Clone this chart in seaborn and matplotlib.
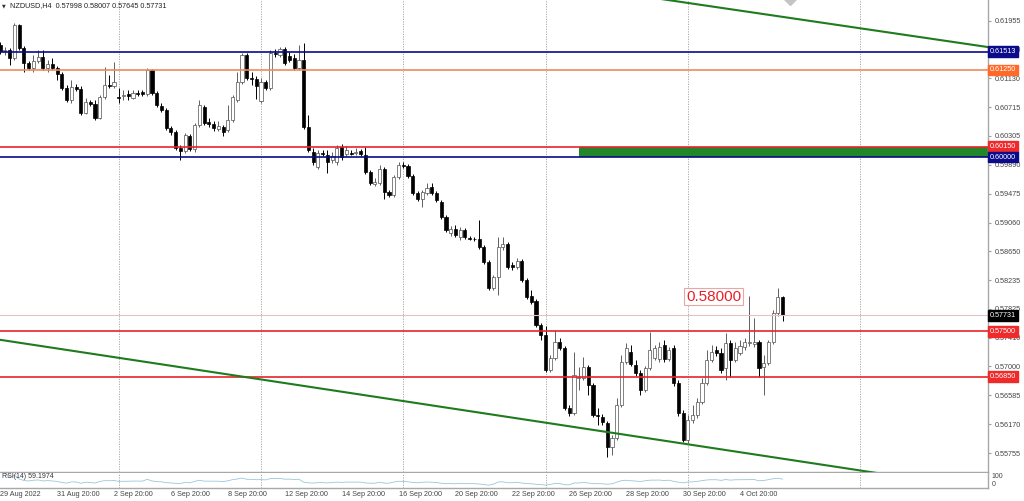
"""
NZDUSD H4 candlestick chart (MT5 style) with support/resistance levels
"""
import numpy as np
import pandas as pd
import matplotlib
matplotlib.use('Agg')
import matplotlib.pyplot as plt
import matplotlib.transforms as mtransforms
import seaborn as sns

# ---- candle data (bar index 0 = 29 Aug 20:00) ----
opens = [
    0.6161, 0.6152, 0.6154, 0.6142, 0.6189, 0.6156, 0.6135, 0.6128, 0.6138, 0.6144,
    0.6128, 0.6133, 0.6128, 0.6119, 0.6099, 0.6082, 0.6100, 0.6098, 0.6063, 0.6079,
    0.6076, 0.6056, 0.6086, 0.6103, 0.6102, 0.6086, 0.6088, 0.6090, 0.6085, 0.6092,
    0.6093, 0.6090, 0.6125, 0.6092, 0.6073, 0.6068, 0.6042, 0.6036, 0.6013, 0.6009,
    0.6030, 0.6012, 0.6046, 0.6072, 0.6050, 0.6047, 0.6040, 0.6043, 0.6039, 0.6053,
    0.6082, 0.6108, 0.6146, 0.6113, 0.6112, 0.6080, 0.6108, 0.6099, 0.6149, 0.6146,
    0.6155, 0.6145, 0.6142, 0.6128, 0.6139, 0.6043, 0.6007, 0.5986, 0.6006, 0.6003,
    0.5996, 0.5993, 0.6014, 0.6004, 0.6006, 0.6006, 0.6009, 0.6003, 0.5978, 0.5961,
    0.5963, 0.5983, 0.5950, 0.5946, 0.5971, 0.5989, 0.5987, 0.5973, 0.5948, 0.5940,
    0.5948, 0.5957, 0.5948, 0.5936, 0.5914, 0.5891, 0.5897, 0.5885, 0.5895, 0.5884,
    0.5883, 0.5883, 0.5871, 0.5850, 0.5812, 0.5828, 0.5871, 0.5875, 0.5845, 0.5842,
    0.5851, 0.5824, 0.5801, 0.5794, 0.5759, 0.5745, 0.5695, 0.5712, 0.5735, 0.5726,
    0.5640, 0.5633, 0.5683, 0.5683, 0.5699, 0.5673, 0.5630, 0.5627, 0.5619, 0.5584,
    0.5597, 0.5644, 0.5706, 0.5720, 0.5702, 0.5690, 0.5666, 0.5697, 0.5712, 0.5710,
    0.5730, 0.5710, 0.5726, 0.5676, 0.5633, 0.5594, 0.5623, 0.5630, 0.5649, 0.5676,
    0.5709, 0.5723, 0.5719, 0.5697, 0.5733, 0.5709, 0.5719, 0.5728, 0.5733, 0.5732,
    0.5735, 0.5699, 0.5705, 0.5735, 0.5776, 0.57998,
]
highs = [
    0.6165, 0.6158, 0.6156, 0.6192, 0.6191, 0.6159, 0.6138, 0.6146, 0.6154, 0.6154,
    0.6139, 0.6142, 0.6131, 0.6122, 0.6103, 0.6111, 0.6105, 0.6102, 0.6085, 0.6082,
    0.6082, 0.6089, 0.6129, 0.6118, 0.6136, 0.6099, 0.6096, 0.6096, 0.6096, 0.6096,
    0.6096, 0.6128, 0.6126, 0.6095, 0.6078, 0.6070, 0.6045, 0.6039, 0.6017, 0.6035,
    0.6033, 0.6049, 0.6082, 0.6075, 0.6056, 0.6052, 0.6052, 0.6046, 0.6075, 0.6089,
    0.6122, 0.6149, 0.6149, 0.6122, 0.6116, 0.6113, 0.6111, 0.6154, 0.6155, 0.6158,
    0.6158, 0.6151, 0.6148, 0.6161, 0.6164, 0.6060, 0.6013, 0.6010, 0.6010, 0.6010,
    0.6007, 0.6017, 0.6019, 0.6016, 0.6010, 0.6013, 0.6012, 0.6014, 0.5981, 0.5970,
    0.5989, 0.5986, 0.5953, 0.5974, 0.5993, 0.5993, 0.5990, 0.5976, 0.5951, 0.5953,
    0.5963, 0.5963, 0.5951, 0.5938, 0.5917, 0.5901, 0.5903, 0.5900, 0.5898, 0.5887,
    0.5885, 0.5910, 0.5874, 0.5853, 0.5831, 0.5885, 0.5885, 0.5878, 0.5850, 0.5855,
    0.5854, 0.5827, 0.5809, 0.5796, 0.5762, 0.5758, 0.5716, 0.5752, 0.5741, 0.5729,
    0.5644, 0.5720, 0.5699, 0.5713, 0.5702, 0.5676, 0.5640, 0.5632, 0.5621, 0.5601,
    0.5654, 0.5716, 0.5733, 0.5730, 0.5709, 0.5695, 0.5700, 0.5749, 0.5730, 0.5735,
    0.5738, 0.5728, 0.5730, 0.5680, 0.5637, 0.5630, 0.5644, 0.5654, 0.5683, 0.5723,
    0.5730, 0.5729, 0.5726, 0.5748, 0.5738, 0.5735, 0.5738, 0.5741, 0.5801, 0.5769,
    0.5738, 0.5716, 0.5738, 0.5781, 0.5812, 0.58007,
]
lows = [
    0.6148, 0.6146, 0.6132, 0.6139, 0.6154, 0.6122, 0.6125, 0.6122, 0.6135, 0.6125,
    0.6122, 0.6125, 0.6111, 0.6096, 0.6079, 0.6078, 0.6095, 0.6060, 0.6062, 0.6073,
    0.6053, 0.6055, 0.6083, 0.6099, 0.6099, 0.6078, 0.6082, 0.6082, 0.6083, 0.6088,
    0.6088, 0.6088, 0.6089, 0.6072, 0.6065, 0.6039, 0.6032, 0.6010, 0.5996, 0.6006,
    0.6009, 0.6007, 0.6043, 0.6046, 0.6043, 0.6037, 0.6037, 0.6030, 0.6036, 0.6050,
    0.6079, 0.6105, 0.6111, 0.6103, 0.6083, 0.6078, 0.6096, 0.6096, 0.6144, 0.6144,
    0.6132, 0.6136, 0.6125, 0.6125, 0.6040, 0.6007, 0.5989, 0.5983, 0.6002, 0.5977,
    0.5992, 0.5989, 0.5996, 0.6002, 0.6003, 0.6003, 0.6002, 0.5975, 0.5960, 0.5959,
    0.5960, 0.5940, 0.5943, 0.5943, 0.5968, 0.5984, 0.5970, 0.5946, 0.5937, 0.5928,
    0.5946, 0.5946, 0.5936, 0.5911, 0.5893, 0.5887, 0.5885, 0.5881, 0.5883, 0.5881,
    0.5880, 0.5868, 0.5847, 0.5809, 0.5809, 0.5802, 0.5867, 0.5840, 0.5838, 0.5840,
    0.5821, 0.5796, 0.5789, 0.5756, 0.5738, 0.5692, 0.5692, 0.5709, 0.5723, 0.5637,
    0.5629, 0.5630, 0.5666, 0.5680, 0.5659, 0.5627, 0.5616, 0.5616, 0.5570, 0.5573,
    0.5594, 0.5642, 0.5703, 0.5700, 0.5686, 0.5659, 0.5663, 0.5695, 0.5709, 0.5706,
    0.5706, 0.5708, 0.5672, 0.5629, 0.5591, 0.5590, 0.5619, 0.5626, 0.5646, 0.5673,
    0.5706, 0.5715, 0.5690, 0.5680, 0.5685, 0.5706, 0.5716, 0.5723, 0.5729, 0.5728,
    0.5685, 0.5659, 0.5702, 0.5732, 0.5772, 0.57645,
]
closes = [
    0.6152, 0.6154, 0.6142, 0.6189, 0.6156, 0.6135, 0.6128, 0.6138, 0.6144, 0.6128,
    0.6133, 0.6128, 0.6119, 0.6099, 0.6082, 0.6100, 0.6098, 0.6063, 0.6079, 0.6076,
    0.6056, 0.6086, 0.6103, 0.6102, 0.6108, 0.6085, 0.6089, 0.6088, 0.6092, 0.6091,
    0.6090, 0.6125, 0.6092, 0.6075, 0.6068, 0.6042, 0.6036, 0.6013, 0.6009, 0.6032,
    0.6012, 0.6046, 0.6075, 0.6049, 0.6047, 0.6042, 0.6045, 0.6036, 0.6053, 0.6086,
    0.6108, 0.6146, 0.6113, 0.6112, 0.6102, 0.6108, 0.6099, 0.6149, 0.6148, 0.6155,
    0.6135, 0.6139, 0.6128, 0.6139, 0.6043, 0.6010, 0.5993, 0.6006, 0.6005, 0.5993,
    0.6002, 0.6013, 0.6000, 0.6010, 0.6005, 0.6007, 0.6004, 0.5978, 0.5963, 0.5964,
    0.5983, 0.5950, 0.5946, 0.5971, 0.5989, 0.5987, 0.5973, 0.5948, 0.5940, 0.5950,
    0.5956, 0.5948, 0.5938, 0.5914, 0.5895, 0.5897, 0.5888, 0.5895, 0.5885, 0.5883,
    0.5882, 0.5871, 0.5850, 0.5812, 0.5828, 0.5871, 0.5875, 0.5842, 0.5842, 0.5851,
    0.5824, 0.5799, 0.5792, 0.5759, 0.5745, 0.5695, 0.5712, 0.5735, 0.5726, 0.5640,
    0.5633, 0.5687, 0.5685, 0.5699, 0.5673, 0.5630, 0.5629, 0.5620, 0.5584, 0.5597,
    0.5644, 0.5706, 0.5726, 0.5703, 0.5690, 0.5666, 0.5697, 0.5723, 0.5726, 0.5728,
    0.5710, 0.5723, 0.5676, 0.5633, 0.5594, 0.5623, 0.5630, 0.5649, 0.5676, 0.5709,
    0.5720, 0.5719, 0.5695, 0.5733, 0.5709, 0.5726, 0.5729, 0.5735, 0.5735, 0.5735,
    0.5697, 0.5705, 0.5735, 0.5776, 0.5800, 0.57731,
]

# time axis labels (bar index, text)
time_ticks = [0, 12, 24, 36, 48, 60, 72, 84, 96, 108, 120, 132, 144, 156]
time_labels = ['29 Aug 2022', '31 Aug 20:00', '2 Sep 20:00', '6 Sep 20:00', '8 Sep 20:00',
               '12 Sep 20:00', '14 Sep 20:00', '16 Sep 20:00', '20 Sep 20:00',
               '22 Sep 20:00', '26 Sep 20:00', '28 Sep 20:00', '30 Sep 20:00', '4 Oct 20:00']
week_separators = [25, 55, 85, 115, 145, 181.3]

price_ticks = [0.61955, 0.61540, 0.61130, 0.60715, 0.60305, 0.59890, 0.59475, 0.59060,
               0.58650, 0.58235, 0.57825, 0.57410, 0.57000, 0.56585, 0.56170, 0.55755]

# horizontal levels: price, line colour, label box colour
level_prices = [0.61513, 0.61250, 0.60150, 0.60000, 0.57500, 0.56850]
level_colors = ['#0A0A8A', '#EE8A5E', '#E8242A', '#0A0A8A', '#E8242A', '#E8242A']
level_box_colors = ['#0A0A8A', '#FF6A2A', '#EE2A2A', '#0A0A8A', '#EE2A2A', '#EE2A2A']
bid_price = 0.57731

# green zone between 0.6000 and 0.6015 starting at bar 122
zone_start = 122.06
zone_low, zone_high = 0.60000, 0.60150

# trend lines (bar, price)
upper_trend_x = [138, 210]
upper_trend_y = [0.6228, 0.6156]
lower_trend_x = [-2, 210]
lower_trend_y = [0.5740, 0.5521]

# grey object marker cut by the top edge
marker_x = [166.6]
marker_y = [0.6228]

# ---- style ----
sns.set_style('white')
plt.rcParams['font.family'] = ['Liberation Sans', 'DejaVu Sans']

N = len(closes)
assert len(opens) == N and len(highs) == N and len(lows) == N
x = np.arange(N)
o = np.array(opens)
h = np.array(highs)
l = np.array(lows)
c = np.array(closes)

W, H = 1024, 501
fig = plt.figure(figsize=(W / 100, H / 100), dpi=100)
ax = fig.add_axes([0, 1 - 472 / H, 988 / W, 472 / H])
rsi_ax = fig.add_axes([0, 1 - 488 / H, 988 / W, 15 / H])

x_left, x_right = -0.04, 208.3
ax.set_xlim(x_left, x_right)
ax.set_ylim(0.55484, 0.62252)

# week separators
for xs in week_separators:
    ax.axvline(xs, color='#A0A0A0', lw=0.6, ls=(0, (1.5, 1.5)), zorder=1)
    rsi_ax.axvline(xs, color='#A0A0A0', lw=0.6, ls=(0, (1.5, 1.5)), zorder=1)

# candles
up = c >= o
wick_col = np.where(up, '#606060', '#000000')
ax.vlines(x, l, h, colors=wick_col, lw=0.7, zorder=2)
body_bottom = np.minimum(o, c)
body_height = np.maximum(np.abs(c - o), 0.00005)
ax.bar(x, body_height, bottom=body_bottom, width=0.66,
       color=np.where(up, 'white', 'black'), edgecolor=np.where(up, '#505050', 'black'),
       linewidth=0.5, zorder=3)

# green zone and levels
ax.fill_between([zone_start, x_right + 1], zone_low, zone_high, color='#23862A', lw=0, zorder=2.5)
for p, col in zip(level_prices, level_colors):
    ax.axhline(p, color=col, lw=1.2, zorder=4)
ax.axhline(bid_price, color='#E3C4C4', lw=0.8, zorder=4)

# trend lines
ax.plot(upper_trend_x, upper_trend_y, color='#1E7B1E', lw=1.5, zorder=4)
ax.plot(lower_trend_x, lower_trend_y, color='#1E7B1E', lw=1.5, zorder=4)
ax.plot(marker_x, marker_y, marker='D', ms=7, color='#C4C4C4', ls='none', zorder=4)

# price axis on the right
ax.yaxis.tick_right()
ax.set_yticks(price_ticks)
ax.set_yticklabels([f'{p:.5f}' for p in price_ticks])
ax.tick_params(axis='y', length=2, pad=3, labelsize=5.2, labelcolor='#454545', color='#A0A0A0')
ax.set_xticks([])
for side in ['left', 'top']:
    ax.spines[side].set_visible(False)
for side in ['right', 'bottom']:
    ax.spines[side].set_color('#A8A8A8')
    ax.spines[side].set_linewidth(1.0)

# price boxes on the axis
trans = mtransforms.blended_transform_factory(ax.transAxes, ax.transData)
for p, col in zip(level_prices, level_box_colors):
    ax.text(1.002, p, f'{p:.5f}', transform=trans, fontsize=5.2, color='white',
            va='center', ha='left', clip_on=False, zorder=6,
            bbox=dict(boxstyle='square,pad=0.25', fc=col, ec=col))
ax.text(1.002, bid_price, f'{bid_price:.5f}', transform=trans, fontsize=5.2, color='white',
        va='center', ha='left', clip_on=False, zorder=6,
        bbox=dict(boxstyle='square,pad=0.25', fc='black', ec='black'))

# 0.58000 annotation
ax.text(144.6, 0.5800, '0.58000', fontsize=11, color='#E8202A', va='center', ha='left',
        zorder=6, bbox=dict(boxstyle='square,pad=0.12', fc='white', ec='#EAA6A6', lw=0.8))

# header
fig.text(2 / W, 1 - 6 / H, '\u25BC', fontsize=3.5, color='#333333', va='center', ha='left',
         family=['DejaVu Sans'])
fig.text(10 / W, 1 - 6 / H, 'NZDUSD,H4  0.57998 0.58007 0.57645 0.57731', fontsize=5.2,
         color='#222222', va='center', ha='left')

# ---- RSI sub-window ----
close_s = pd.Series(c)
delta = close_s.diff()
gain = delta.clip(lower=0).ewm(alpha=1 / 14, adjust=False).mean()
loss = (-delta.clip(upper=0)).ewm(alpha=1 / 14, adjust=False).mean()
rsi = 100 - 100 / (1 + gain / loss)
rsi_df = pd.DataFrame({'bar': x, 'rsi': rsi})
sns.lineplot(data=rsi_df, x='bar', y='rsi', ax=rsi_ax, color='#9CC6DA', lw=0.6, legend=False)
rsi_ax.set_xlim(x_left, x_right)
rsi_ax.set_ylim(0, 100)
rsi_ax.set_xlabel('')
rsi_ax.set_ylabel('')
rsi_ax.set_yticks([])
rsi_trans = mtransforms.blended_transform_factory(rsi_ax.transAxes, rsi_ax.transData)
rsi_ax.text(1.004, 100, '100', transform=rsi_trans, fontsize=5, color='#454545',
            va='top', ha='left', clip_on=False)
rsi_ax.text(1.004, 0, '0', transform=rsi_trans, fontsize=5, color='#454545',
            va='bottom', ha='left', clip_on=False)
rsi_ax.set_xticks(time_ticks)
rsi_ax.set_xticklabels(time_labels, ha='left')
rsi_ax.tick_params(axis='x', length=0, pad=2.5, labelsize=5.2, labelcolor='#454545')
rsi_ax.spines['left'].set_visible(False)
rsi_ax.spines['top'].set_visible(False)
for side in ['right', 'bottom']:
    rsi_ax.spines[side].set_color('#A8A8A8')
    rsi_ax.spines[side].set_linewidth(1.0)
rsi_ax.text(0.002, 0.75, 'RSI(14) 59.1974', transform=rsi_ax.transAxes, fontsize=5,
            color='#333333', va='center', ha='left')

fig.savefig('out.png', dpi=100)
plt.close(fig)
